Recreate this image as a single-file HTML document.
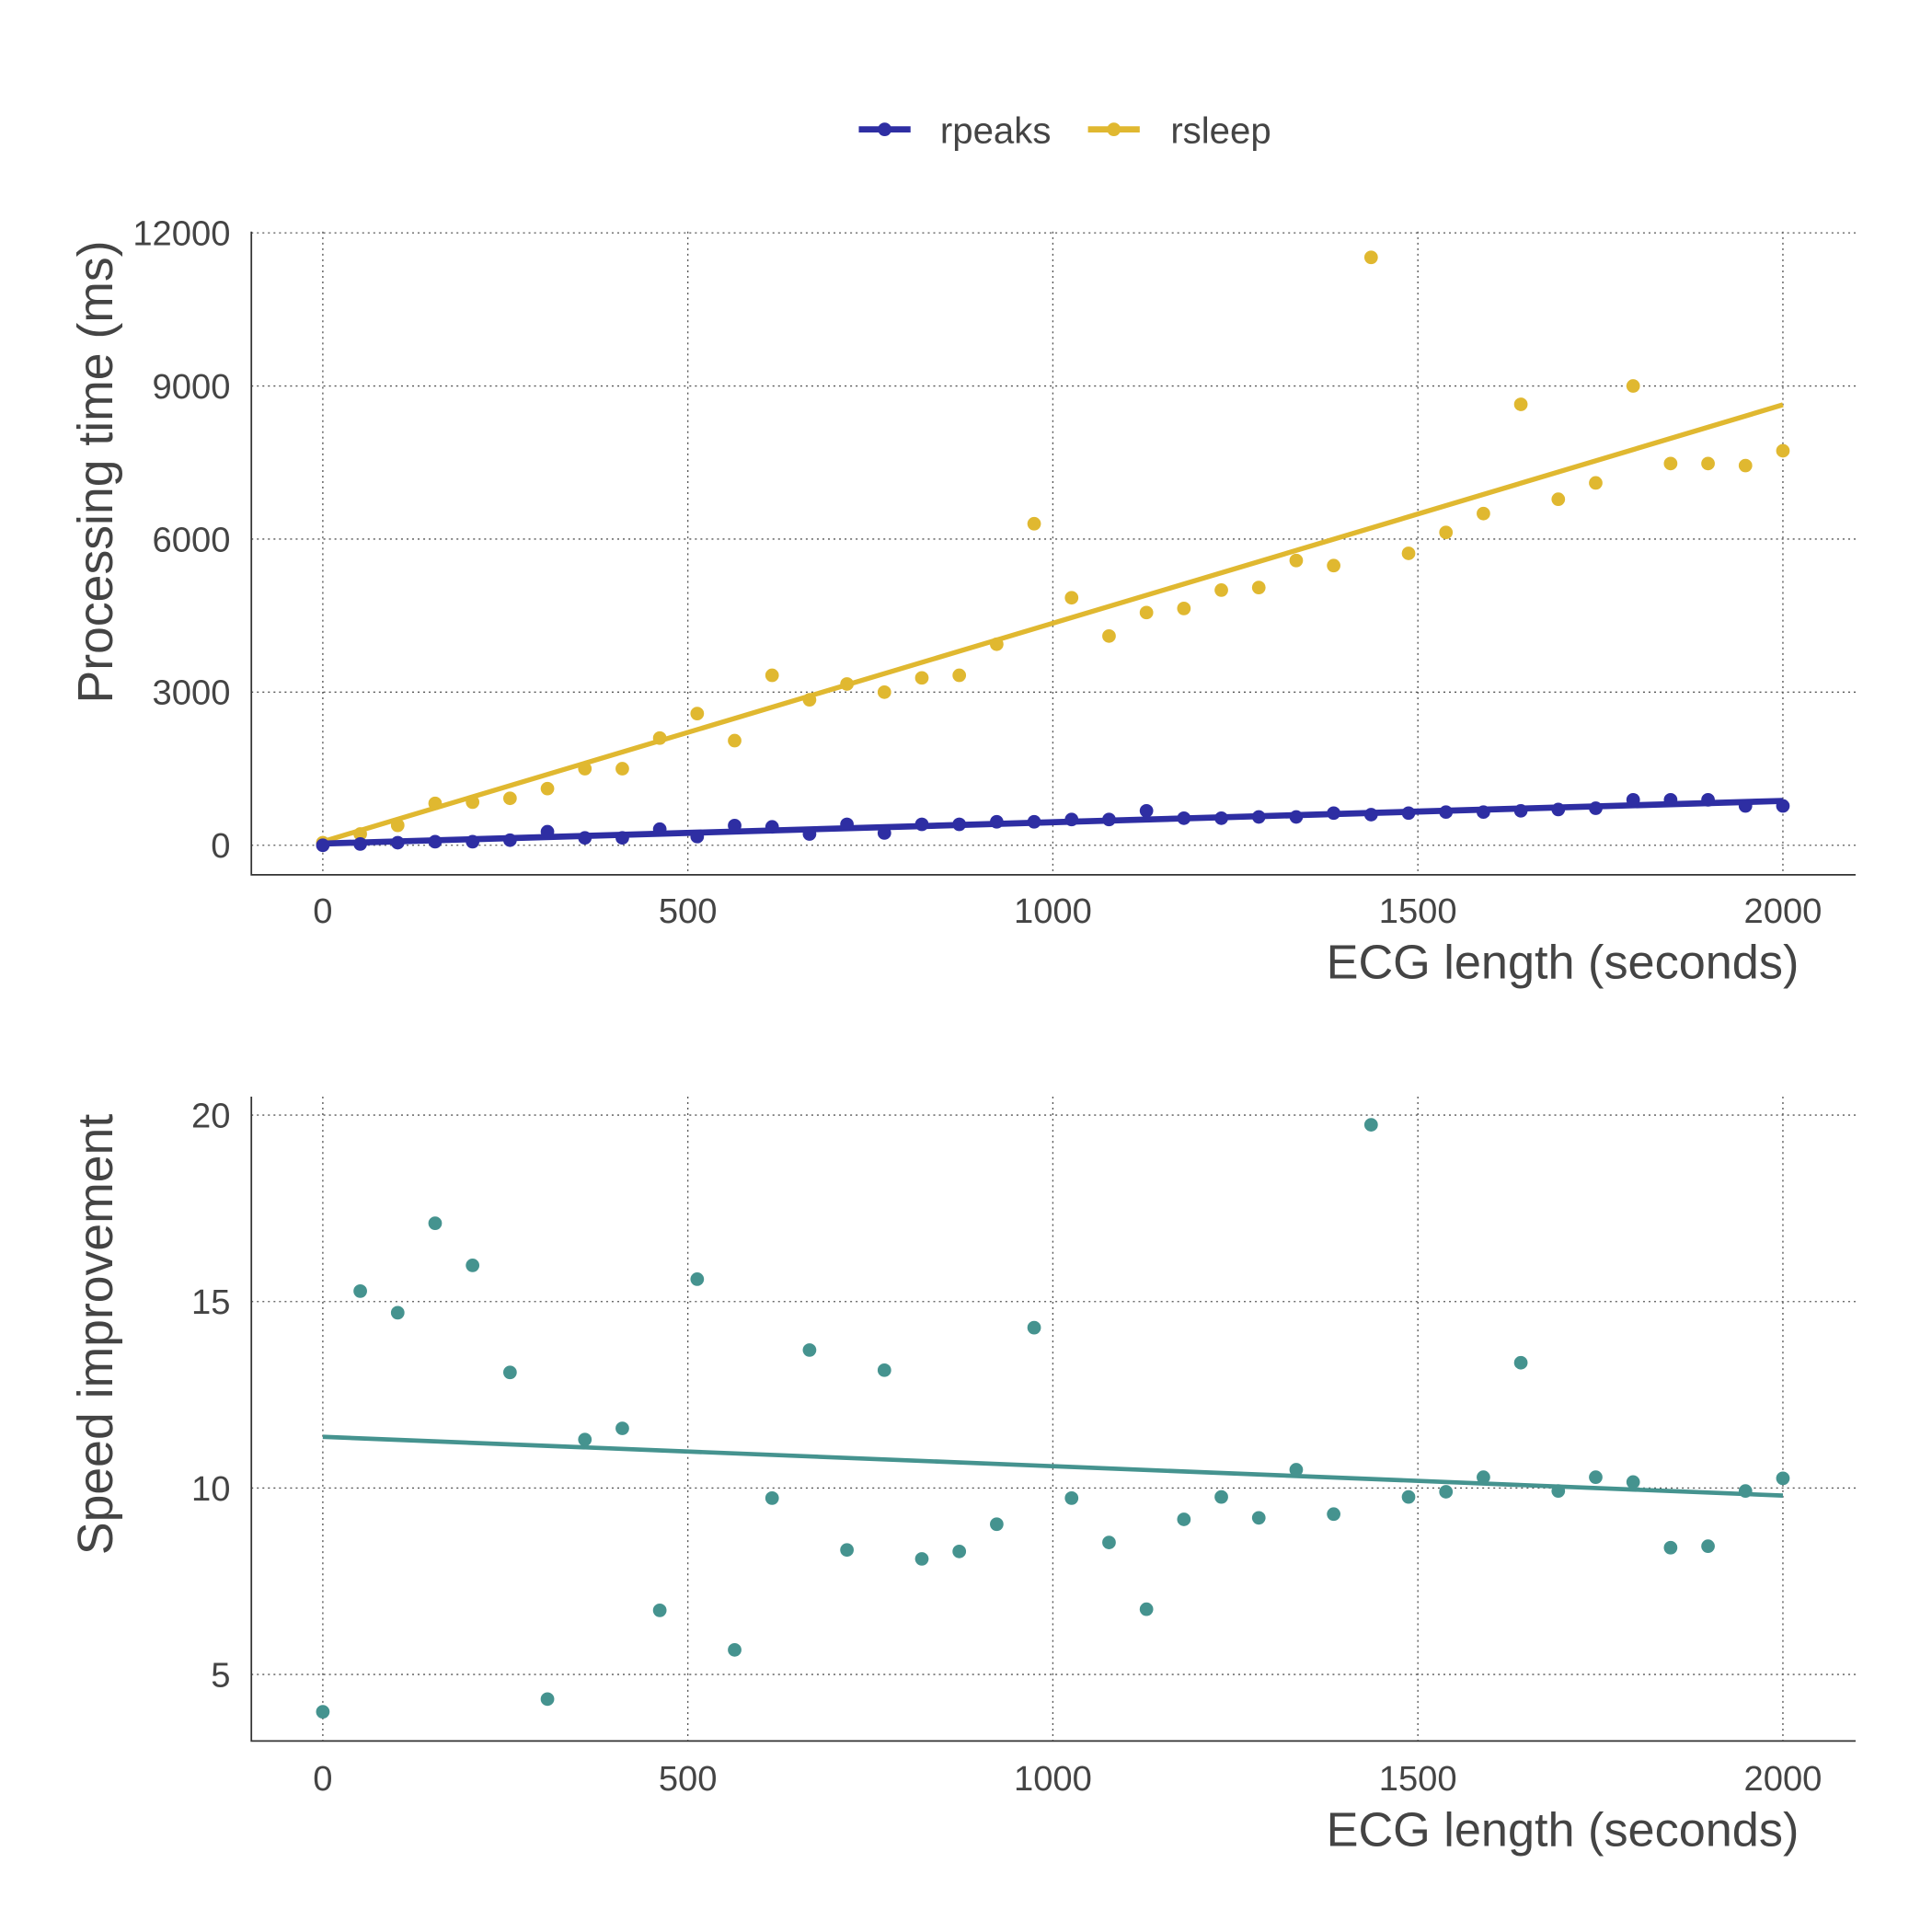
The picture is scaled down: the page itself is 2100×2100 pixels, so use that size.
<!DOCTYPE html>
<html><head><meta charset="utf-8"><style>
html,body{margin:0;padding:0;background:#fff}
svg{display:block}
text{font-family:"Liberation Sans",sans-serif;fill:#444}
</style></head><body>
<svg id="chart" width="2100" height="2100" viewBox="0 0 1568 1568" xmlns="http://www.w3.org/2000/svg">
<g id="legend">
  <g>
    <line x1="697" y1="105" x2="739" y2="105" stroke="#2e2ea3" stroke-width="5"/>
    <circle cx="718" cy="105" r="5.5" fill="#2e2ea3"/>
    <text x="763" y="116" font-size="30">rpeaks</text>
  </g>
  <g>
    <line x1="883" y1="105" x2="925" y2="105" stroke="#e0b830" stroke-width="5"/>
    <circle cx="904" cy="105" r="5.5" fill="#e0b830"/>
    <text x="950" y="116" font-size="30">rsleep</text>
  </g>
</g>
<g id="top"></g>
<g id="bot"></g>
</svg>
<script>
const xCount = 40;
const xMax = 2000;
const rsleepValues = [50,220,390,820,845,920,1110,1500,1500,2100,2580,2050,3330,2850,3160,3000,3280,3330,3940,6300,4850,4100,4560,4640,5000,5050,5580,5480,11520,5720,6130,6500,8640,6780,7100,9000,7480,7480,7440,7730];
const rpeaksValues = [0,25,50,70,70,100,265,145,145,315,170,385,360,220,410,240,410,410,460,460,505,505,675,530,530,555,555,630,600,630,650,650,675,700,725,890,890,890,770,770];
const speedValues = [4.0,15.28,14.7,17.1,15.97,13.1,4.34,11.3,11.6,6.72,15.6,5.66,9.73,13.7,8.34,13.16,8.1,8.3,9.03,14.3,9.73,8.54,6.75,9.16,9.76,9.2,10.49,9.3,19.74,9.76,9.9,10.29,13.36,9.92,10.29,10.16,8.4,8.44,9.92,10.26];
const xTicks = [0,500,1000,1500,2000];
const topYTicks = [0,3000,6000,9000,12000];
const botYTicks = [5,10,15,20];
const xValues = [];
for (let i = 0; i < xCount; i++) xValues.push(i * xMax / (xCount - 1));

const NS = "http://www.w3.org/2000/svg";
function mk(tag, attrs, parent) {
  const e = document.createElementNS(NS, tag);
  for (const k in attrs) e.setAttribute(k, attrs[k]);
  parent.appendChild(e);
  return e;
}
function fit(xs, ys) {
  const n = xs.length; let sx=0, sy=0, sxx=0, sxy=0;
  for (let i=0;i<n;i++){sx+=xs[i];sy+=ys[i];sxx+=xs[i]*xs[i];sxy+=xs[i]*ys[i];}
  const b=(n*sxy-sx*sy)/(n*sxx-sx*sx); const a=(sy-b*sx)/n; return [a,b];
}
const xs = v => 262 + v * (1447 - 262) / 2000;

function panel(g, yTop, yBot, ys, yTicks, yTitle, yTitleY, xTickY, xTitleY, yTitleSize) {
  xTicks.forEach(t => {
    const l = mk('line', {x1: xs(t), x2: xs(t), y1: yTop, y2: yBot, stroke: '#555', 'stroke-width': 1, 'stroke-dasharray': '1.5,3'}, g);
    
    
    const tx = mk('text', {x: xs(t), y: xTickY, 'font-size': 28.5, 'text-anchor': 'middle'}, g);
    tx.textContent = t;
    
    
  });
  yTicks.forEach(t => {
    const l = mk('line', {x1: 204, x2: 1506, y1: ys(t), y2: ys(t), stroke: '#555', 'stroke-width': 1, 'stroke-dasharray': '1.5,3'}, g);
    
    
    const tx = mk('text', {x: 187, y: ys(t) + 10, 'font-size': 28.5, 'text-anchor': 'end'}, g);
    tx.textContent = t;
    
    
  });
  const ax = mk('path', {d: `M204 ${yTop} V${yBot} H1506`, fill: 'none', stroke: '#333', 'stroke-width': 1.3}, g);
  
  
  const xt = mk('text', {x: 1460, y: xTitleY, 'font-size': 39, 'text-anchor': 'end'}, g);
  xt.textContent = 'ECG length (seconds)';
  
  
  const yt = mk('text', {x: 0, y: 0, 'font-size': yTitleSize, 'text-anchor': 'middle', transform: `translate(91 ${yTitleY}) rotate(-90)`}, g);
  yt.textContent = yTitle;
  
  
}
function series(g, ys, vals, color, name, lw) {
  const [a, b] = fit(xValues, vals);
  const l = mk('line', {x1: xs(0), y1: ys(a), x2: xs(xMax), y2: ys(a + b * xMax), stroke: color, 'stroke-width': lw}, g);
  
  
  vals.forEach((v, i) => {
    const c = mk('circle', {cx: xs(xValues[i]), cy: ys(v), r: 5.5, fill: color}, g);
    
    
  });
}
const topG = document.getElementById('top');
const ysTop = v => 686 - v * (686 - 189) / 12000;
panel(topG, 188, 710, ysTop, topYTicks, 'Processing time (ms)', 383, 749, 794, 40);
series(topG, ysTop, rsleepValues, '#e0b830', 'rsleep', 4);
series(topG, ysTop, rpeaksValues, '#2e2ea3', 'rpeaks', 5);

const botG = document.getElementById('bot');
const ysBot = v => 1359 - (v - 5) * (1359 - 905) / 15;
panel(botG, 890, 1413, ysBot, botYTicks, 'Speed improvement', 1083, 1453, 1498, 40);
series(botG, ysBot, speedValues, '#45938f', 'speed', 3.5);
</script>
</body></html>
